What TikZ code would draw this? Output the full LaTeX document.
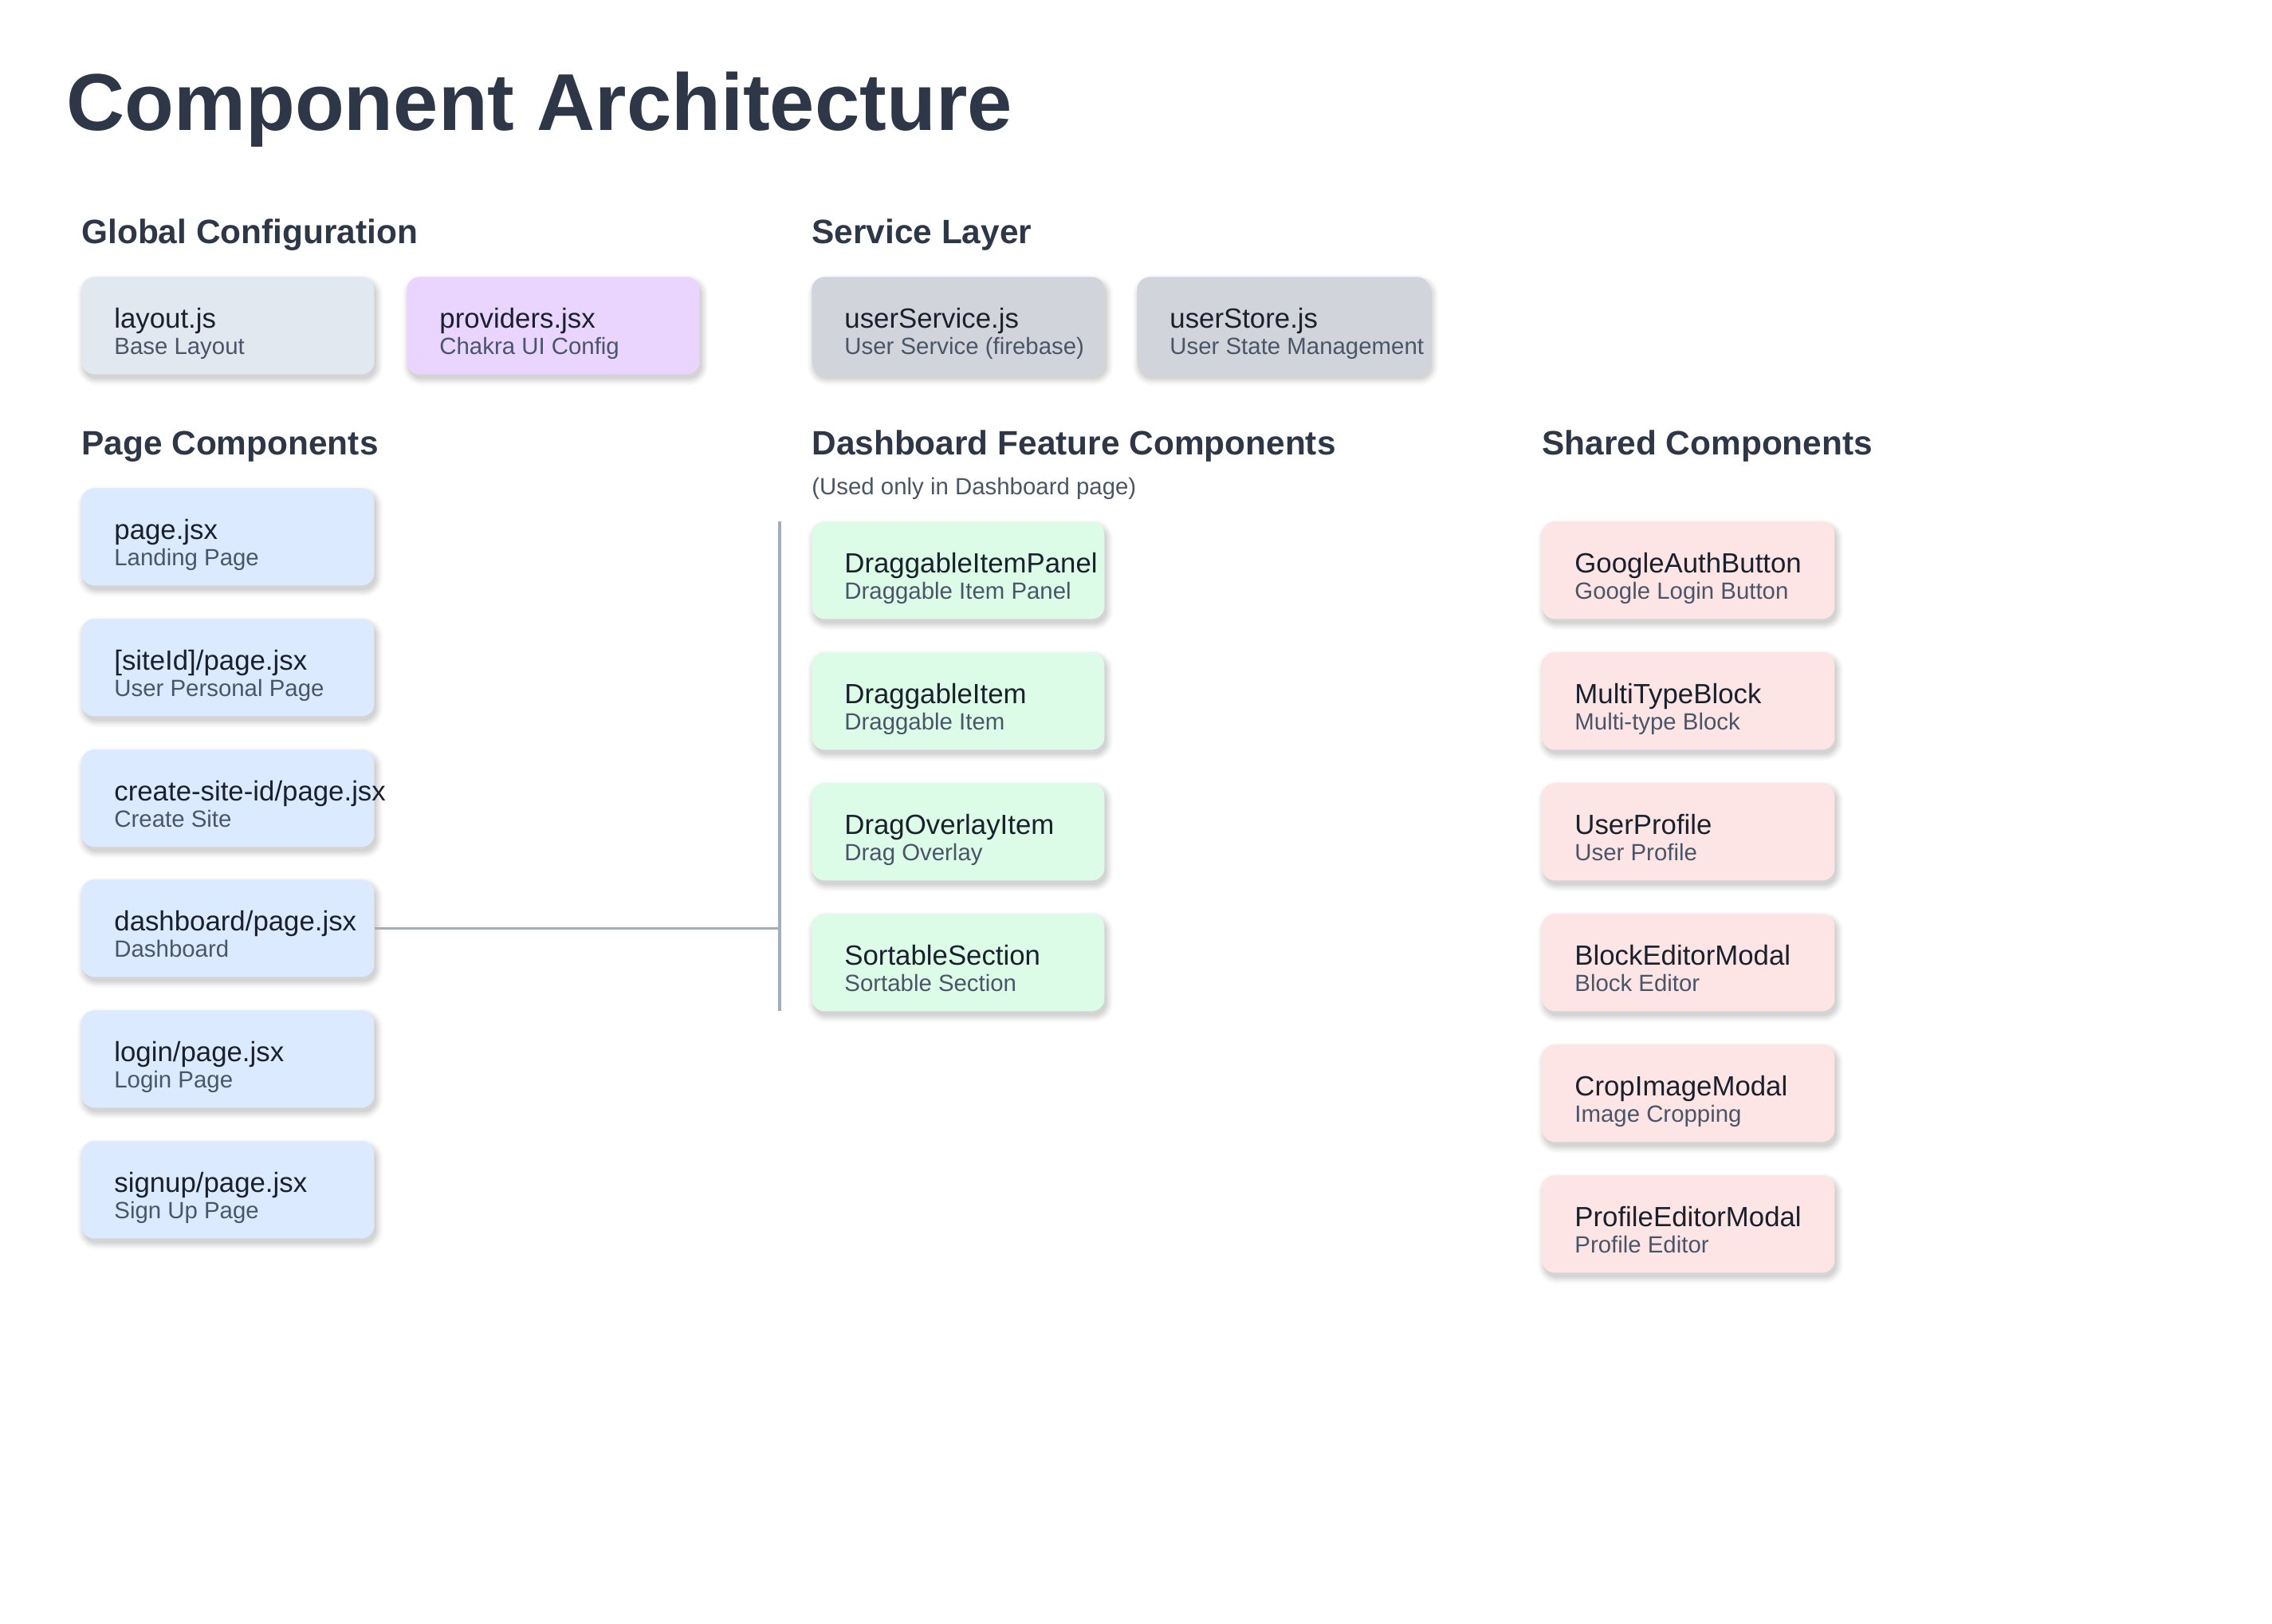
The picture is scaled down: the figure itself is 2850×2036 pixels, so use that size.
\documentclass[tikz,border=0pt]{standalone}
\usepackage{fontspec}
\setmainfont{Liberation Sans}
\definecolor{titlec}{HTML}{2D3748}
\definecolor{mainc}{HTML}{1A202C}
\definecolor{subc}{HTML}{4A5568}
\definecolor{layoutc}{HTML}{E2E8F0}
\definecolor{purplec}{HTML}{E9D5FF}
\definecolor{grayc}{HTML}{D1D5DB}
\definecolor{bluec}{HTML}{DBEAFE}
\definecolor{greenc}{HTML}{DCFCE7}
\definecolor{pinkc}{HTML}{FDE5E5}
\definecolor{linec}{HTML}{A0AEC0}
\tikzset{
  compbox/.style={rectangle, rounded corners=8pt, draw=none, inner sep=0pt,
    minimum width=183.5pt, minimum height=61pt, anchor=north west},
  shadowlayer/.style={fill=black, draw=none},
  maintext/.style={inner sep=0pt, anchor=base west, text=mainc, font=\fontsize{17.4}{20}\selectfont},
  subtext/.style={inner sep=0pt, anchor=base west, text=subc, font=\fontsize{14.7}{18}\selectfont},
  heading/.style={inner sep=0pt, anchor=base west, text=titlec, font=\fontsize{21.2}{25}\selectfont\bfseries},
  bigtitle/.style={inner sep=0pt, anchor=base west, text=titlec, font=\fontsize{50.6}{60}\selectfont\bfseries},
  conn/.style={draw=linec, line width=1.6pt}
}
\newcommand\compbox[6]{%
  \foreach \e/\o in {8/0.025,6/0.03,4/0.035,2/0.04,0/0.045}{%
    \fill[shadowlayer, opacity=\o, rounded corners={8pt+0.5pt*\e}]
      ({#2+3-\e},{#3+6-\e}) rectangle ({#2+367+3+\e},{#3+122+6+\e});
  }
  \node[compbox, fill=#4] (#1) at (#2,#3) {};
  \path (#2,#3) ++(41,64) node[maintext] (#1-t) {#5};
  \path (#2,#3) ++(41,97) node[subtext] (#1-s) {#6};
}
\begin{document}
\begin{tikzpicture}[x=0.5pt,y=-0.5pt]
\useasboundingbox[fill=white] (0,0) rectangle (2850,2036);

\node[bigtitle] (title) at (83,163) {Component Architecture};

% Global configuration
\node[heading] (hglobal) at (102,305) {Global Configuration};
\compbox{layout}{102}{347}{layoutc}{layout.js}{Base Layout}
\compbox{providers}{510}{347}{purplec}{providers.jsx}{Chakra UI Config}

% Service layer
\node[heading] (hservice) at (1018,305) {Service Layer};
\compbox{usersvc}{1018}{347}{grayc}{userService.js}{User Service (firebase)}
\compbox{userstore}{1426}{347}{grayc}{userStore.js}{User State Management}

% Page components
\node[heading] (hpage) at (102,570) {Page Components};
\compbox{p1}{102}{612}{bluec}{page.jsx}{Landing Page}
\compbox{p2}{102}{776}{bluec}{[siteId]/page.jsx}{User Personal Page}
\compbox{p3}{102}{940}{bluec}{create-site-id/page.jsx}{Create Site}
\compbox{dash}{102}{1103}{bluec}{dashboard/page.jsx}{Dashboard}
\compbox{p5}{102}{1267}{bluec}{login/page.jsx}{Login Page}
\compbox{p6}{102}{1431}{bluec}{signup/page.jsx}{Sign Up Page}

% Dashboard feature components
\node[heading] (hdash) at (1018,570) {Dashboard Feature Components};
\node[subtext] (hdashnote) at (1018,620) {(Used only in Dashboard page)};
\compbox{f1}{1018}{654}{greenc}{DraggableItemPanel}{Draggable Item Panel}
\compbox{f2}{1018}{818}{greenc}{DraggableItem}{Draggable Item}
\compbox{f3}{1018}{982}{greenc}{DragOverlayItem}{Drag Overlay}
\compbox{f4}{1018}{1146}{greenc}{SortableSection}{Sortable Section}

% Shared components
\node[heading] (hshared) at (1934,570) {Shared Components};
\compbox{s1}{1934}{654}{pinkc}{GoogleAuthButton}{Google Login Button}
\compbox{s2}{1934}{818}{pinkc}{MultiTypeBlock}{Multi-type Block}
\compbox{s3}{1934}{982}{pinkc}{UserProfile}{User Profile}
\compbox{s4}{1934}{1146}{pinkc}{BlockEditorModal}{Block Editor}
\compbox{s5}{1934}{1310}{pinkc}{CropImageModal}{Image Cropping}
\compbox{s6}{1934}{1474}{pinkc}{ProfileEditorModal}{Profile Editor}

% connector
\coordinate (vtop) at (978,654);
\coordinate (vbot) at (978,1268);
\draw[conn] (vtop) -- (vbot);
\draw[conn] (dash.east) -- (dash.east -| vtop);
\end{tikzpicture}
\end{document}
